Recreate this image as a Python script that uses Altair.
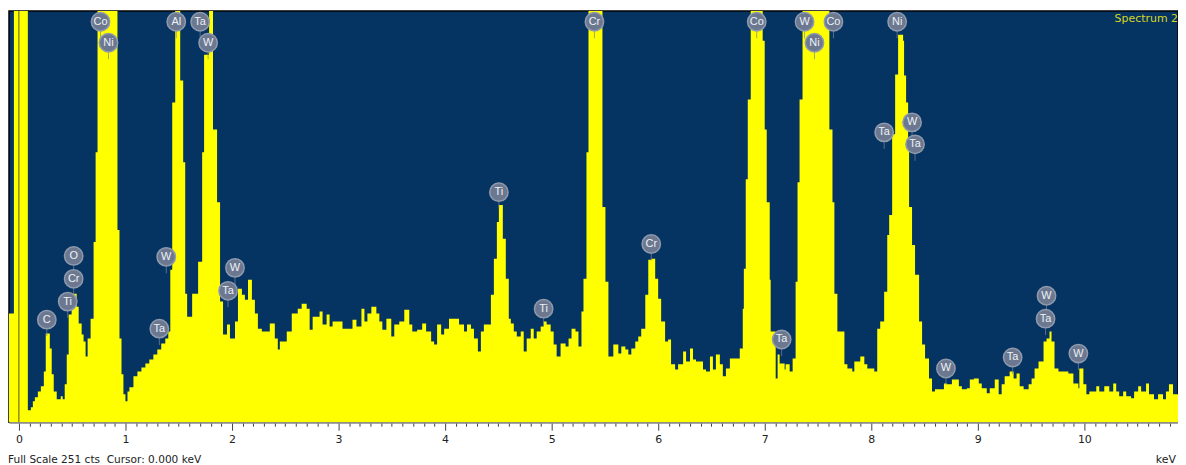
import altair as alt
import pandas as pd

# ---- spectrum (energy in keV at start of each step, counts) ----
energy = [-0.093, -0.047, 0.084, 0.112, 0.131, 0.150, 0.178, 0.206, 0.234, 0.252, 0.290, 0.308, 0.327, 0.355,
          0.393, 0.411, 0.430, 0.449, 0.467, 0.495, 0.542, 0.561, 0.589, 0.607, 0.626, 0.645, 0.673, 0.701,
          0.720, 0.738, 0.925, 0.944, 0.963, 0.981, 1.000, 1.019, 1.037, 1.075, 1.112, 1.150, 1.187, 1.224,
          1.262, 1.299, 1.336, 1.374, 1.402, 1.421, 1.439, 1.467, 1.514, 1.542, 1.561, 1.579, 1.626, 1.682,
          1.720, 1.738, 1.785, 1.822, 1.860, 1.888, 1.916, 1.953, 1.981, 2.028, 2.056, 2.093, 2.121, 2.150,
          2.187, 2.215, 2.243, 2.280, 2.355, 2.402, 2.430, 2.449, 2.514, 2.561, 2.617, 2.654, 2.701, 2.729,
          2.757, 2.822, 2.850, 2.888, 2.916, 2.944, 3.037, 3.131, 3.168, 3.215, 3.243, 3.271, 3.308, 3.355,
          3.383, 3.411, 3.449, 3.495, 3.523, 3.570, 3.617, 3.664, 3.692, 3.738, 3.785, 3.822, 3.869, 3.897,
          3.925, 3.963, 3.991, 4.037, 4.131, 4.178, 4.206, 4.243, 4.271, 4.308, 4.336, 4.364, 4.430, 4.458,
          4.486, 4.505, 4.542, 4.570, 4.598, 4.617, 4.645, 4.673, 4.710, 4.738, 4.766, 4.804, 4.832, 4.860,
          4.897, 4.925, 4.953, 4.991, 5.019, 5.047, 5.084, 5.131, 5.159, 5.187, 5.224, 5.252, 5.280, 5.299,
          5.327, 5.346, 5.477, 5.505, 5.533, 5.579, 5.626, 5.654, 5.692, 5.720, 5.748, 5.785, 5.813, 5.841,
          5.879, 5.907, 5.935, 5.972, 6.000, 6.028, 6.065, 6.093, 6.121, 6.159, 6.187, 6.234, 6.262, 6.299,
          6.327, 6.355, 6.421, 6.449, 6.486, 6.514, 6.542, 6.579, 6.607, 6.636, 6.673, 6.766, 6.794, 6.804,
          6.822, 6.841, 6.869, 6.981, 7.000, 7.019, 7.047, 7.056, 7.103, 7.121, 7.140, 7.187, 7.196, 7.234,
          7.262, 7.290, 7.308, 7.327, 7.355, 7.607, 7.636, 7.654, 7.682, 7.748, 7.776, 7.822, 7.841, 7.897,
          7.935, 7.963, 8.028, 8.056, 8.084, 8.121, 8.150, 8.168, 8.196, 8.224, 8.252, 8.299, 8.308, 8.327,
          8.346, 8.355, 8.383, 8.411, 8.449, 8.477, 8.505, 8.542, 8.570, 8.598, 8.682, 8.710, 8.757, 8.822,
          8.850, 8.897, 8.925, 8.963, 9.009, 9.037, 9.084, 9.112, 9.159, 9.196, 9.224, 9.252, 9.299, 9.336,
          9.364, 9.393, 9.430, 9.477, 9.505, 9.533, 9.570, 9.617, 9.645, 9.673, 9.692, 9.720, 9.757, 9.850,
          9.897, 9.944, 9.953, 9.991, 10.019, 10.047, 10.112, 10.140, 10.187, 10.234, 10.271, 10.299, 10.327,
          10.364, 10.393, 10.439, 10.467, 10.505, 10.533, 10.579, 10.607, 10.654, 10.692, 10.738, 10.766,
          10.794, 10.832, 10.879]
counts = [66.3, 300, 7.3, 9.1, 12.8, 15.2, 18.8, 21.9, 31.0, 54.1, 45.0, 29.2, 18.8, 14.0,
          15.8, 14.0, 23.1, 41.3, 65.7, 78.4, 70.5, 60.2, 53.5, 49.2, 40.1, 51.1, 63.2, 110.0,
          164.7, 300, 117.3, 51.1, 29.2, 17.0, 12.8, 18.8, 21.3, 28.0, 31.0, 33.4, 35.9, 38.3,
          41.3, 44.4, 48.0, 51.1, 55.3, 93.0, 195.1, 300, 208.5, 158.7, 78.4, 64.4, 78.4, 97.9,
          164.7, 224.3, 300, 178.7, 134.3, 73.6, 53.5, 59.6, 51.1, 61.4, 81.5, 77.8, 74.8, 86.9,
          74.8, 66.3, 57.1, 55.3, 60.2, 51.1, 44.4, 49.2, 55.3, 66.3, 69.3, 72.3, 69.3, 56.5,
          64.4, 67.5, 59.6, 65.7, 58.4, 61.4, 57.1, 62.6, 58.4, 69.3, 61.4, 66.3, 70.5, 66.3,
          61.4, 56.5, 63.2, 52.3, 59.6, 61.4, 68.7, 59.6, 55.3, 56.5, 60.2, 55.3, 49.2, 47.4,
          59.6, 53.5, 57.1, 63.2, 59.6, 55.3, 59.6, 57.1, 51.1, 43.2, 55.3, 59.6, 77.8, 99.7,
          122.2, 132.5, 111.9, 87.5, 63.2, 60.2, 55.3, 52.3, 55.3, 43.2, 51.1, 57.1, 51.1, 55.3,
          58.4, 61.4, 59.6, 55.3, 47.4, 40.1, 48.0, 46.2, 51.1, 57.1, 55.3, 46.2, 67.5, 87.5,
          164.7, 300, 131.3, 85.7, 40.1, 47.4, 41.9, 46.2, 44.4, 41.3, 45.0, 49.2, 52.3, 57.1,
          77.8, 99.1, 99.7, 87.5, 75.4, 61.4, 49.2, 50.5, 35.3, 32.2, 35.3, 43.2, 37.1, 45.0,
          38.3, 37.1, 32.2, 31.0, 40.1, 32.2, 41.3, 35.3, 28.0, 32.8, 38.9, 45.0, 69.3, 93.6,
          148.3, 196.9, 300, 232.8, 178.7, 134.3, 86.9, 55.3, 26.7, 41.3, 35.9, 32.2, 35.3, 31.0,
          38.9, 85.7, 146.5, 196.9, 300, 178.7, 134.3, 78.4, 55.3, 35.3, 32.8, 31.0, 37.1, 40.1,
          35.3, 32.8, 31.0, 57.1, 61.4, 79.6, 114.3, 126.4, 175.7, 212.2, 236.5, 232.8, 211.6, 195.1,
          169.0, 131.3, 108.2, 90.0, 61.4, 47.4, 38.9, 26.7, 18.8, 20.1, 23.7, 23.1, 26.1, 21.9,
          20.1, 20.7, 26.1, 26.7, 23.7, 20.7, 17.6, 20.7, 26.1, 17.0, 23.1, 28.0, 31.0, 26.7,
          29.8, 21.9, 20.1, 23.1, 26.7, 32.8, 37.1, 49.2, 51.1, 55.3, 49.2, 32.8, 31.0, 29.8,
          23.7, 20.7, 32.8, 23.1, 17.0, 18.8, 21.9, 18.8, 21.9, 18.8, 23.7, 18.8, 15.8,
          18.8, 15.8, 14.6, 18.8, 21.9, 18.8, 23.7, 17.0, 14.0, 17.0, 14.0, 18.8,
          23.1, 17.0, 17.0]

# ---- element markers ----
lbl_text = ["C", "Ti", "Cr", "O", "Co", "Ni", "Ta", "W", "Al", "Ta", "W", "Ta", "W", "Ti", "Ti", "Cr", "Cr",
            "Co", "Ta", "W", "Ni", "Co", "Ni", "Ta", "W", "Ta", "W", "Ta", "W", "Ta", "W"]
lbl_energy = [0.262, 0.458, 0.514, 0.514, 0.766, 0.841, 1.318, 1.383, 1.477, 1.701, 1.776, 1.963, 2.028,
              4.505, 4.925, 5.402, 5.935, 6.925, 7.159, 7.374, 7.467, 7.645, 8.243, 8.121, 8.383, 8.411,
              8.701, 9.327, 9.645, 9.636, 9.944]
lbl_counts = [62.6, 73.6, 87.5, 101.5, 244.4, 231.6, 57.1, 100.9, 244.4, 244.4, 231.6, 80.2, 94.2,
              140.4, 69.3, 244.4, 108.8, 244.4, 50.5, 244.4, 231.6, 244.4, 244.4, 176.9, 183.0, 169.6,
              32.8, 39.5, 77.2, 63.2, 41.9]

tick_values = [round(i * 0.1, 1) for i in range(0, 109)]
cursor = [0.0]
full_scale = 251
footer_text = "Full Scale 251 cts\u00a0 Cursor: 0.000 keV"

W, H = 1174, 413
FONT = "Liberation Sans"
UI_FONT = "DejaVu Sans"

spec = pd.DataFrame({"energy": energy, "counts": counts})
lbl = pd.DataFrame({"el": lbl_text, "energy": lbl_energy, "counts": lbl_counts})

xscale = alt.Scale(domain=[-0.093, 10.879], nice=False, zero=False)
yscale = alt.Scale(domain=[0, full_scale], nice=False, zero=True)

is_major = "abs(datum.value - round(datum.value)) < 0.001"
xaxis = alt.Axis(
    values=tick_values,
    labelExpr=is_major + " ? format(datum.value, 'd') : ''",
    tickSize={"condition": {"test": is_major, "value": 8}, "value": 4},
    tickColor="#444444", tickWidth=1,
    domainColor="#8a8a8a", domainWidth=2,
    labelFont=UI_FONT, labelFontSize=11, labelColor="#222222",
    labelOverlap=False, labelFlush=False, labelPadding=3, labelBound=False,
    grid=False, title=None,
)

X = alt.X("energy:Q", scale=xscale, axis=xaxis)
Y = alt.Y("counts:Q", scale=yscale, axis=None)

area = alt.Chart(spec).mark_area(interpolate="step-after", color="#ffff00", clip=True).encode(x=X, y=Y)

cur = alt.Chart(pd.DataFrame({"energy": cursor})).mark_rule(color="#55551a", strokeWidth=1).encode(x=X)

stems = alt.Chart(lbl).mark_tick(orient="vertical", size=7, thickness=1, color="#7d889c", yOffset=13).encode(
    x=X, y=Y)

circles = alt.Chart(lbl).mark_point(shape="circle", filled=True, size=340, fill="#6b7890",
                                    stroke="#8f9aad", strokeWidth=1.5, opacity=1).encode(x=X, y=Y)

texts = alt.Chart(lbl).mark_text(font=FONT, fontSize=11, color="#eef1f5", baseline="middle",
                                 align="center").encode(x=X, y=Y, text="el:N")

spec_title = alt.Chart(pd.DataFrame({"t": ["Spectrum 2"]})).mark_text(
    font=UI_FONT, fontSize=11, color="#d6d822", align="right", baseline="middle").encode(
    x=alt.value(W), y=alt.value(8), text="t:N")

footer = alt.Chart(pd.DataFrame({"t": [footer_text]})).mark_text(
    font=UI_FONT, fontSize=10.6, color="#222222", align="left", baseline="middle").encode(
    x=alt.value(-1), y=alt.value(451), text="t:N")

kev = alt.Chart(pd.DataFrame({"t": ["keV"]})).mark_text(
    font=UI_FONT, fontSize=11, color="#222222", align="right", baseline="middle").encode(
    x=alt.value(W - 2), y=alt.value(451), text="t:N")

chart = alt.layer(area, cur, stems, circles, texts, spec_title, footer, kev).properties(
    width=W, height=H, padding=0
).configure_view(fill="#063462", stroke="#000000", strokeWidth=1.5
).configure_axisX(labelOverlap=False)

chart.save("out.html", embed_options={"renderer": "svg", "actions": False})
